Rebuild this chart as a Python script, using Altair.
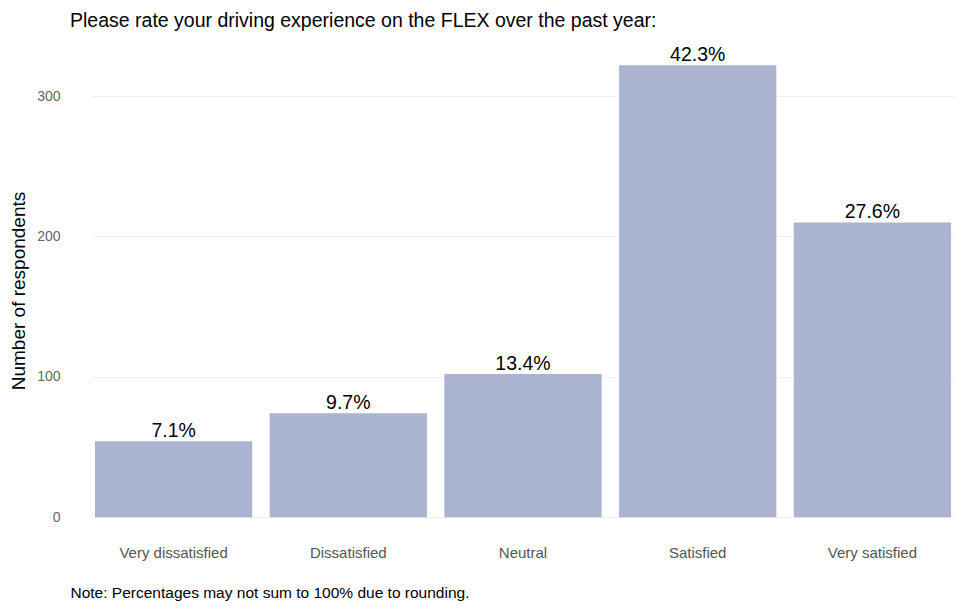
import altair as alt
import pandas as pd

categories = ["Very dissatisfied", "Dissatisfied", "Neutral", "Satisfied", "Very satisfied"]
counts = [54, 74, 102, 322, 210]
pct_labels = ["7.1%", "9.7%", "13.4%", "42.3%", "27.6%"]

df = pd.DataFrame({"category": categories, "count": counts, "pct": pct_labels})

FONT = "Liberation Sans"

x = alt.X(
    "category:N",
    sort=categories,
    scale=alt.Scale(range=[15.5, 878.5], paddingInner=0.1, paddingOuter=0.02),
    axis=alt.Axis(
        title="Note: Percentages may not sum to 100% due to rounding.",
        titleAnchor="start",
        titleAlign="left",
        titleBaseline="middle",
        titleX=-6,
        titleY=51,
        titleFontSize=15.5,
        titleFontWeight="normal",
        titleColor="#000000",
        titleFont=FONT,
        labelAngle=0,
        labelFontSize=15,
        labelColor="#555555",
        labelFont=FONT,
        labelPadding=4,
        ticks=False,
        domain=False,
        grid=False,
    ),
)

y = alt.Y(
    "count:Q",
    scale=alt.Scale(domain=[-17, 340], nice=False, zero=False),
    axis=alt.Axis(
        title="Number of respondents",
        titleFontSize=19,
        titleFontWeight="normal",
        titleColor="#000000",
        titleFont=FONT,
        titlePadding=8,
        values=[0, 100, 200, 300],
        labelFontSize=14,
        labelColor="#666666",
        labelFont=FONT,
        labelPadding=16,
        ticks=False,
        domain=False,
        grid=True,
        gridColor="#efefef",
        gridWidth=1,
    ),
)

bars = alt.Chart(df).mark_bar(color="#aab3cf").encode(x=x, y=y)

labels = alt.Chart(df).mark_text(
    baseline="alphabetic", dy=-4, fontSize=19.5, font=FONT, color="#000000"
).encode(x=alt.X("category:N", sort=categories), y="count:Q", text="pct:N")

chart = (
    alt.layer(bars, labels)
    .properties(
        width=880,
        height=501,
        autosize=alt.AutoSizeParams(type="none"),
        padding={"left": 68, "top": 32, "right": 0, "bottom": 61},
        title=alt.TitleParams(
            "Please rate your driving experience on the FLEX over the past year:",
            anchor="start",
            frame="group",
            fontSize=19.5,
            fontWeight="normal",
            font=FONT,
            color="#000000",
            dx=-6,
            offset=9,
        ),
    )
    .configure(background="white")
    .configure_view(stroke="transparent", strokeWidth=0)
)

chart.save("out.html", embed_options={"renderer": "svg", "actions": False})
